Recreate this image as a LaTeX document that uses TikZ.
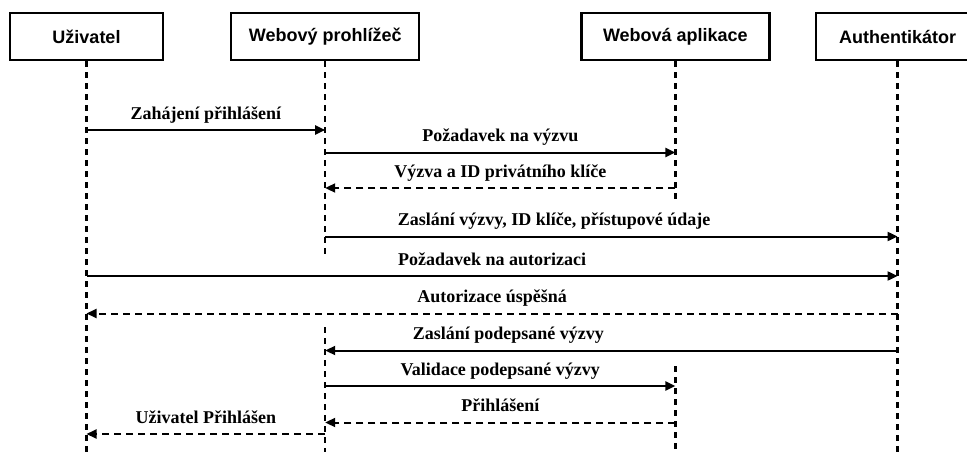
\documentclass[tikz,border=0pt]{standalone}
\usepackage{fontspec}
\setmainfont{Liberation Serif}
\newfontfamily\boxfont{Liberation Sans}
\usetikzlibrary{positioning,arrows.meta}

\begin{document}
\begin{tikzpicture}[%
    x=1pt, y=-1pt,
    actor/.style={%
        draw,
        rectangle,
        line width=2.2pt,
        minimum height=47pt,
        font=\boxfont\bfseries\fontsize{18}{21}\selectfont
    },
    life/.style={%
        line width=2.5pt,
        dash pattern=on 6pt off 5pt
    },
    msg/.style={%
        ->,
        line width=2pt
    },
    reply/.style={%
        ->,
        line width=2pt,
        dash pattern=on 7pt off 5pt
    },
    lbl/.style={%
        midway,
        anchor=base,
        yshift=11pt,
        inner sep=0pt,
        font=\bfseries\fontsize{18}{21}\selectfont
    },
    >={Triangle[length=10pt,width=9pt]}
]
\useasboundingbox (0,0) rectangle (967,452);
\clip (0,0) rectangle (967,452);

% Participants
\node[actor, minimum width=153pt] (user) at (86.5,36.5) {Uživatel};
\node[actor, minimum width=188pt, right=66pt of user] (browser) {Webový prohlížeč};
\node[actor, minimum width=188pt, right=160pt of browser] (app) {Webová aplikace};
\node[actor, minimum width=164pt, right=44pt of app] (auth) {Authentikátor};

% Rows
\coordinate (bottom) at (0,452);
\coordinate (m1) at (0,130);
\coordinate (m2) at (0,152.5);
\coordinate (m3) at (0,188);
\coordinate (m4) at (0,236.5);
\coordinate (m5) at (0,276);
\coordinate (m6) at (0,313.5);
\coordinate (m7) at (0,350.5);
\coordinate (m8) at (0,386);
\coordinate (m9) at (0,422.5);
\coordinate (m10) at (0,434);

% Lifelines
\draw[life] (user.south) -- (user |- bottom);
\draw[life] (browser.south) -- (browser |- 0,258);
\draw[life] (browser |- 0,327) -- (browser |- bottom);
\draw[life] (app.south) -- (app |- 0,202);
\draw[life] (app |- 0,366) -- (app |- bottom);
\draw[life] (auth.south) -- (auth |- bottom);

% Messages
\draw[msg] (user |- m1) -- node[lbl] {Zahájení přihlášení} (browser |- m1);
\draw[msg] (browser |- m2) -- node[lbl] {Požadavek na výzvu} (app |- m2);
\draw[reply] (app |- m3) -- node[lbl] {Výzva a ID privátního klíče} (browser |- m3);
\draw[msg] (browser |- m4) -- node[lbl, pos=0.4] {Zaslání výzvy, ID klíče, přístupové údaje} (auth |- m4);
\draw[msg] (user |- m5) -- node[lbl] {Požadavek na autorizaci} (auth |- m5);
\draw[reply] (auth |- m6) -- node[lbl] {Autorizace úspěšná} (user |- m6);
\draw[msg] (auth |- m7) -- node[lbl, pos=0.68] {Zaslání podepsané výzvy} (browser |- m7);
\draw[msg] (browser |- m8) -- node[lbl] {Validace podepsané výzvy} (app |- m8);
\draw[reply] (app |- m9) -- node[lbl] {Přihlášení} (browser |- m9);
\draw[reply] (browser |- m10) -- node[lbl] {Uživatel Přihlášen} (user |- m10);

\end{tikzpicture}
\end{document}
